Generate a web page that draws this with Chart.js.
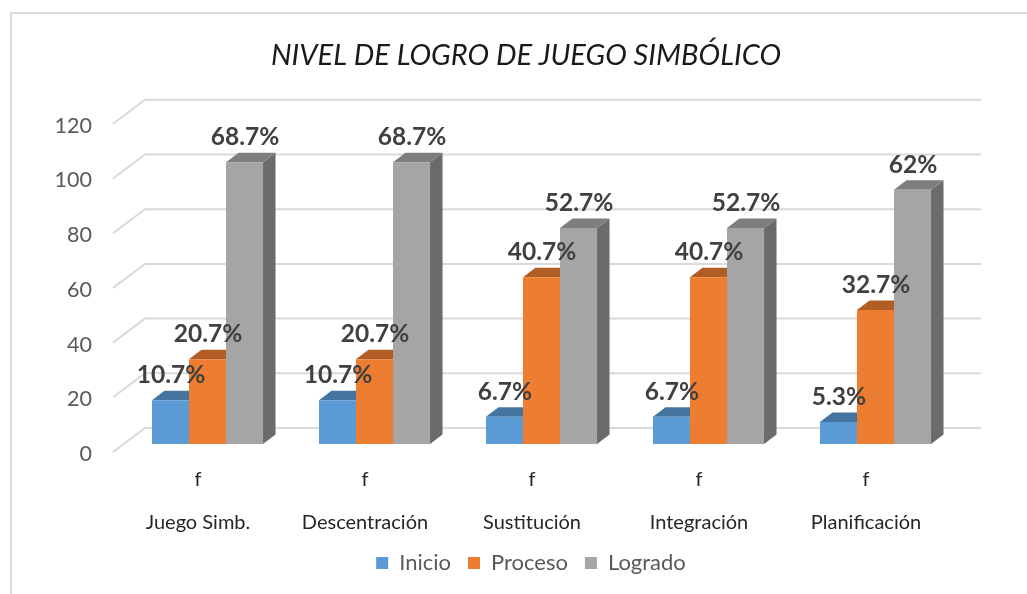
<!DOCTYPE html>
<html>
<head>
<meta charset="utf-8">
<title>Nivel de logro de juego simbólico</title>
<script src="https://cdn.jsdelivr.net/npm/chart.js@4"></script>
<style>
    html, body { margin: 0; background: #fff; }
    #wrap { position: relative; width: 1027px; height: 594px; overflow: hidden; }
    #frame { position: absolute; left: 10px; top: 12px; width: 1027px; height: 600px;
             border-top: 2px solid #d9d9d9; border-left: 2px solid #d9d9d9; }
    canvas { position: absolute; left: 0; top: 0; }
</style>
</head>
<body>
<div id="wrap">
    <div id="frame"></div>
    <canvas id="chart" width="1027" height="594"></canvas>
</div>
<script>
// Datos
const categorias = ['Juego Simb.', 'Descentración', 'Sustitución', 'Integración', 'Planificación'];
const subcategoria = 'f';
const inicio = [16, 16, 10, 10, 8];
const proceso = [31, 31, 61, 61, 49];
const logrado = [103, 103, 79, 79, 93];
const etiquetasInicio = ['10.7%', '10.7%', '6.7%', '6.7%', '5.3%'];
const etiquetasProceso = ['20.7%', '20.7%', '40.7%', '40.7%', '32.7%'];
const etiquetasLogrado = ['68.7%', '68.7%', '52.7%', '52.7%', '62%'];
const ticksY = [0, 20, 40, 60, 80, 100, 120];

const fuente = 'Lato, Carlito, sans-serif';

// Colores de cada cara: frente, tapa, lateral
const caras = [
    { frente: '#5b9bd5', tapa: '#44749f', lado: '#3a6690' },
    { frente: '#ed7d31', tapa: '#b15d24', lado: '#a85820' },
    { frente: '#a5a5a5', tapa: '#7e7e7e', lado: '#6b6b6b' }
];

// Profundidad de las barras y de la pared
const fondoBarra = { x: 12.5, y: 9.5 };
const pared = { atras: 16, frente: 8, izq: 11, der: 22, ancho: 32 };

// Dibuja la pared con las líneas de guía y las caras 3D de las barras
const plugin3d = {
    id: 'plugin3d',
    afterLayout(chart) {
        // la leyenda del original no está centrada con el título
        chart.legend.left += 5;
        chart.legend.right += 5;
    },
    beforeDatasetsDraw(chart) {
        const { ctx, scales: { x, y } } = chart;
        ctx.save();

        ctx.strokeStyle = '#d9d9d9';
        ctx.lineWidth = 2;
        y.ticks.forEach(t => {
            const py = y.getPixelForValue(t.value);
            ctx.beginPath();
            ctx.moveTo(x.left - pared.izq, py + pared.frente);
            ctx.lineTo(x.left - pared.izq + pared.ancho, py - pared.atras);
            ctx.lineTo(x.right + pared.der, py - pared.atras);
            ctx.stroke();
        });

        chart.data.datasets.forEach((ds, i) => {
            chart.getDatasetMeta(i).data.forEach(bar => {
                const izq = bar.x - bar.width / 2;
                const der = bar.x + bar.width / 2;
                ctx.fillStyle = caras[i].lado;
                ctx.beginPath();
                ctx.moveTo(der, bar.y);
                ctx.lineTo(der + fondoBarra.x, bar.y - fondoBarra.y);
                ctx.lineTo(der + fondoBarra.x, bar.base - fondoBarra.y);
                ctx.lineTo(der, bar.base);
                ctx.closePath();
                ctx.fill();

                ctx.fillStyle = caras[i].tapa;
                ctx.beginPath();
                ctx.moveTo(izq, bar.y);
                ctx.lineTo(izq + fondoBarra.x, bar.y - fondoBarra.y);
                ctx.lineTo(der + fondoBarra.x, bar.y - fondoBarra.y);
                ctx.lineTo(der, bar.y);
                ctx.closePath();
                ctx.fill();
            });
        });
        ctx.restore();
    },
    afterDatasetsDraw(chart) {
        const { ctx } = chart;
        const etiquetas = [etiquetasInicio, etiquetasProceso, etiquetasLogrado];
        ctx.save();
        ctx.font = 'bold 24.5px ' + fuente;
        ctx.fillStyle = '#404040';
        ctx.textAlign = 'center';
        ctx.textBaseline = 'middle';
        chart.data.datasets.forEach((ds, i) => {
            chart.getDatasetMeta(i).data.forEach((bar, j) => {
                ctx.fillText(etiquetas[i][j], bar.x + 0.5, bar.y - 25);
            });
        });
        ctx.restore();
    }
};

new Chart(document.getElementById('chart'), {
    type: 'bar',
    data: {
        labels: categorias.map(c => [subcategoria, '', c]),
        datasets: [
            { label: 'Inicio', data: inicio, backgroundColor: caras[0].frente },
            { label: 'Proceso', data: proceso, backgroundColor: caras[1].frente },
            { label: 'Logrado', data: logrado, backgroundColor: caras[2].frente }
        ]
    },
    options: {
        responsive: false,
        animation: false,
        layout: { padding: { top: 0, left: 25, right: 0, bottom: 10 } },
        datasets: { bar: { barPercentage: 1, categoryPercentage: 0.665 } },
        plugins: {
            title: {
                display: true,
                text: 'NIVEL DE LOGRO DE JUEGO SIMBÓLICO',
                color: '#1a1a1a',
                font: { family: fuente, size: 29, style: 'italic', weight: 'normal' },
                padding: { top: 38, bottom: 43 }
            },
            legend: {
                position: 'bottom',
                labels: {
                    color: '#595959',
                    font: { family: fuente, size: 22 },
                    boxWidth: 12,
                    boxHeight: 12,
                    padding: 17
                }
            },
            tooltip: { enabled: false }
        },
        scales: {
            x: {
                grid: { display: false },
                border: { display: false },
                afterFit: s => { s.height = 91; },
                ticks: {
                    color: '#262626',
                    font: { family: fuente, size: 20, lineHeight: 1.07 },
                    labelOffset: -9.5,
                    padding: 17,
                    maxRotation: 0,
                    autoSkip: false
                }
            },
            y: {
                min: 0,
                max: 120,
                afterFit: s => { s.width = 99; },
                afterBuildTicks: s => { s.ticks = ticksY.map(v => ({ value: v })); },
                grid: { display: false, drawTicks: false },
                border: { display: false },
                ticks: {
                    color: '#595959',
                    font: { family: fuente, size: 21.5 },
                    labelOffset: 10,
                    padding: 32
                }
            },
            // Eje vacío: reserva el margen derecho sin mover el título
            margen: {
                position: 'right',
                afterFit: s => { s.width = 68; },
                grid: { display: false },
                border: { display: false },
                ticks: { display: false }
            }
        }
    },
    plugins: [plugin3d]
});
</script>
</body>
</html>
